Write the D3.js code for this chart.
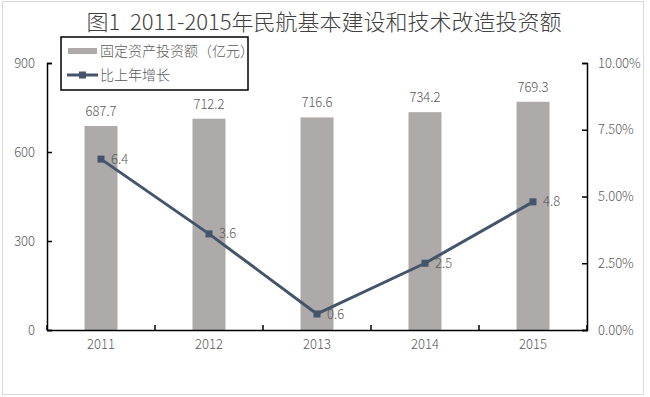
<!DOCTYPE html>
<html>
<head>
<meta charset="utf-8">
<script src="https://cdn.jsdelivr.net/npm/d3@7"></script>
<style>
  body { margin: 0; background: #fff; }
  text { font-family: "Noto Sans CJK SC", "Noto Sans", sans-serif; font-weight: 300; }
</style>
</head>
<body>
<div id="chart"></div>
<script>
const years = ['2011', '2012', '2013', '2014', '2015'];
const investment = [687.7, 712.2, 716.6, 734.2, 769.3];
const growth = [6.4, 3.6, 0.6, 2.5, 4.8];
const leftTicks = [0, 300, 600, 900];
const rightTicks = [0, 2.5, 5, 7.5, 10];

const BAR_COLOR = '#aeaaaa';
const LINE_COLOR = '#44546a';
const TEXT_COLOR = '#595959';

const width = 650, height = 397;
const plot = {left: 47, right: 587, top: 63, bottom: 330};

const svg = d3.select('#chart').append('svg')
  .attr('width', width)
  .attr('height', height);

// outer frame
svg.append('rect')
  .attr('x', 2.5).attr('y', 1.5)
  .attr('width', 641).attr('height', 393)
  .attr('fill', '#fff')
  .attr('stroke', '#d9d9d9');

svg.append('text')
  .attr('x', 324).attr('y', 30)
  .attr('text-anchor', 'middle')
  .attr('font-size', 22)
  .attr('fill', '#404040')
  .style('white-space', 'pre')
  .text('图1  2011-2015年民航基本建设和技术改造投资额');

const x = d3.scaleBand().domain(years).range([plot.left, plot.right]);
const yL = d3.scaleLinear().domain([0, 900]).range([plot.bottom, plot.top]);
const yR = d3.scaleLinear().domain([0, 10]).range([plot.bottom, plot.top]);

const barW = 33;

// bars
svg.selectAll('.bar')
  .data(investment)
  .enter().append('rect')
    .attr('x', (d, i) => x(years[i]) + x.bandwidth() / 2 - barW / 2)
    .attr('y', d => yL(d))
    .attr('width', barW)
    .attr('height', d => yL(0) - yL(d))
    .attr('fill', BAR_COLOR);

svg.selectAll('.bar-label')
  .data(investment)
  .enter().append('text')
    .attr('x', (d, i) => x(years[i]) + x.bandwidth() / 2)
    .attr('y', d => yL(d) - 10)
    .attr('text-anchor', 'middle')
    .attr('font-size', 13)
    .attr('fill', TEXT_COLOR)
    .text(d => d.toFixed(1));

// axes
const left = svg.append('g')
  .attr('transform', `translate(${plot.left},0)`)
  .call(d3.axisLeft(yL).tickValues(leftTicks).tickSize(-5).tickPadding(12));
const right = svg.append('g')
  .attr('transform', `translate(${plot.right},0)`)
  .call(d3.axisRight(yR).tickValues(rightTicks).tickSize(-5).tickPadding(11)
    .tickFormat(d => d.toFixed(2) + '%'));
const bottom = svg.append('g')
  .attr('transform', `translate(0,${plot.bottom})`)
  .call(d3.axisBottom(x).tickSize(0).tickPadding(10));

// category separator ticks on x axis
bottom.selectAll('.sep')
  .data(d3.range(years.length + 1))
  .enter().append('line')
    .attr('x1', i => plot.left + i * x.bandwidth())
    .attr('x2', i => plot.left + i * x.bandwidth())
    .attr('y1', 0).attr('y2', -5)
    .attr('stroke', '#000').attr('stroke-width', 1.5);

[left, right, bottom].forEach(g => {
  g.select('.domain').attr('stroke', '#000').attr('stroke-width', 1.5);
  g.selectAll('.tick line').attr('stroke', '#000').attr('stroke-width', 1.5);
  g.selectAll('.tick text')
    .attr('fill', TEXT_COLOR)
    .attr('font-size', 13)
    .style('font-family', '"Noto Sans CJK SC", sans-serif');
});

// growth line
const line = d3.line()
  .x((d, i) => x(years[i]) + x.bandwidth() / 2)
  .y(d => yR(d));

svg.append('path')
  .datum(growth)
  .attr('d', line)
  .attr('fill', 'none')
  .attr('stroke', LINE_COLOR)
  .attr('stroke-width', 3)
  .attr('stroke-linejoin', 'round');

svg.selectAll('.marker')
  .data(growth)
  .enter().append('rect')
    .attr('x', (d, i) => x(years[i]) + x.bandwidth() / 2 - 3.5)
    .attr('y', d => yR(d) - 3.5)
    .attr('width', 7).attr('height', 7)
    .attr('fill', LINE_COLOR);

svg.selectAll('.line-label')
  .data(growth)
  .enter().append('text')
    .attr('x', (d, i) => x(years[i]) + x.bandwidth() / 2 + 10)
    .attr('y', d => yR(d))
    .attr('dy', '.35em')
    .attr('font-size', 13)
    .attr('fill', TEXT_COLOR)
    .text(d => d.toFixed(1));

// legend
const legend = svg.append('g');
legend.append('rect')
  .attr('x', 61).attr('y', 37)
  .attr('width', 187).attr('height', 53)
  .attr('fill', '#fff')
  .attr('stroke', '#000')
  .attr('stroke-width', 1.5);
legend.append('rect')
  .attr('x', 68).attr('y', 48)
  .attr('width', 29).attr('height', 6)
  .attr('fill', BAR_COLOR);
legend.append('text')
  .attr('x', 100).attr('y', 51).attr('dy', '.35em')
  .attr('font-size', 14).attr('fill', TEXT_COLOR)
  .text('固定资产投资额（亿元）');
legend.append('line')
  .attr('x1', 67).attr('x2', 98)
  .attr('y1', 75).attr('y2', 75)
  .attr('stroke', LINE_COLOR).attr('stroke-width', 3);
legend.append('rect')
  .attr('x', 79).attr('y', 71.5)
  .attr('width', 7).attr('height', 7)
  .attr('fill', LINE_COLOR);
legend.append('text')
  .attr('x', 100).attr('y', 75).attr('dy', '.35em')
  .attr('font-size', 14).attr('fill', TEXT_COLOR)
  .text('比上年增长');
</script>
</body>
</html>
